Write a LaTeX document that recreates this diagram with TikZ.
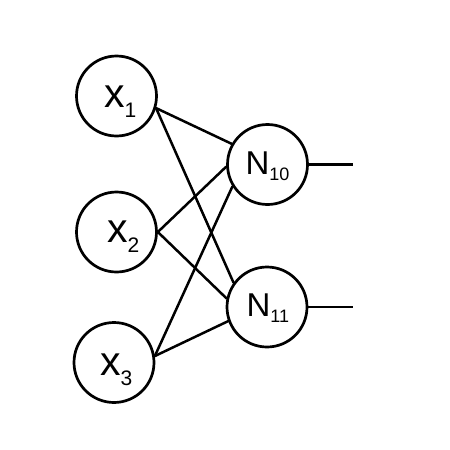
\documentclass[tikz,border=0pt]{standalone}
\usepackage{fontspec}
\setmainfont{Liberation Sans}
\begin{document}
\begin{tikzpicture}[x=1pt,y=-1pt,
  neuron/.style={draw=black,circle,line width=2.7pt,minimum size=80pt,inner sep=0pt,fill=white},
  wire/.style={line width=2.5pt,line cap=round},
  lbl/.style={inner sep=0pt,outer sep=0pt,anchor=base west}]
\useasboundingbox[fill=white] (0,0) rectangle (450,450);
% neurons
\node[neuron] (x1) at (116.5,96) {};
\node[neuron] (x2) at (116.5,232) {};
\node[neuron] (x3) at (114,362.5) {};
\node[neuron] (n10) at (267.5,164.5) {};
\node[neuron] (n11) at (267,307) {};
% labels
\newcommand{\xlab}[1]{{\fontsize{41}{41}\selectfont x}\raisebox{-10pt}{\fontsize{21}{21}\selectfont #1}}
\newcommand{\nlab}[1]{{\fontsize{33}{33}\selectfont N}\raisebox{-6pt}{\fontsize{18}{18}\selectfont #1}}
\node[lbl] (t1) at (104,107) {\xlab{1}};
\node[lbl] (t2) at (107,242) {\xlab{2}};
\node[lbl] (t3) at (100,375) {\xlab{3}};
\node[lbl] (t10) at (245.5,174) {\nlab{10}};
\node[lbl] (t11) at (246.5,316) {\nlab{11}};
% connections
\draw[wire] (x1.-17) -- (n10.150);
\draw[wire] (x1.-17) -- (n11.144);
\draw[wire] (x2.0) -- (n10.183.5);
\draw[wire] (x2.0) -- (n11.168);
\draw[wire] (x3.9) -- (n10.212);
\draw[wire] (x3.9) -- (n11.200.5);
% outputs
\coordinate (o10) at (353,164.5);
\coordinate (o11) at (353,307);
\draw[wire,line cap=butt] (n10.0) -- (o10);
\draw[wire,line cap=butt] (n11.0) -- (o11);
\end{tikzpicture}
\end{document}
